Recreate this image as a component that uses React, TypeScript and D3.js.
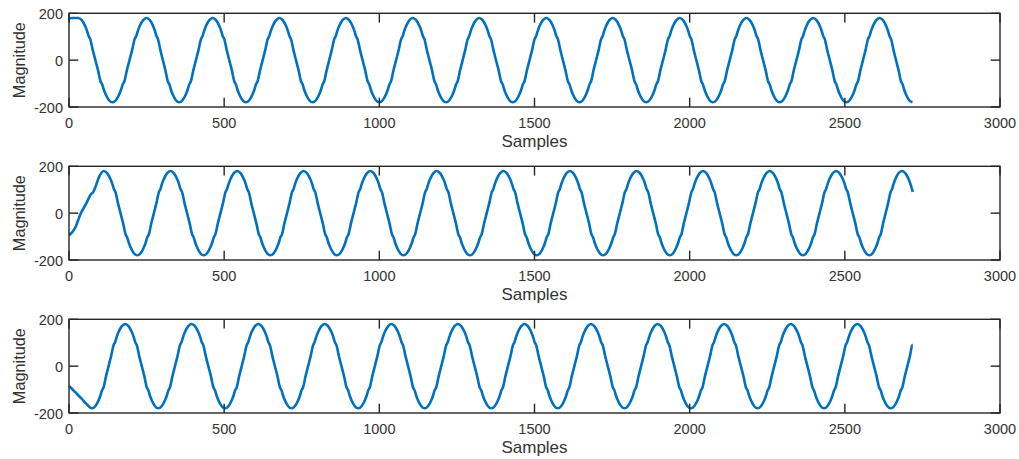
import React from "react";
import * as d3 from "d3";

const W = 1019;
const H = 459;

const xTicks = [0, 500, 1000, 1500, 2000, 2500, 3000];
const yTicks = [-200, 0, 200];
const xLabel = "Samples";
const yLabel = "Magnitude";
const amplitude = 180;

// Shape of one half-cycle: [fraction of half-cycle, fraction of amplitude]
const halfCycleShape: [number, number][] = [
  [0, 1], [0.1, 0.951], [0.2, 0.809], [0.26, 0.684], [0.3, 0.575], [0.35, 0.5],
  [0.42, 0.249], [0.5, 0], [0.58, -0.249], [0.65, -0.5], [0.7, -0.575],
  [0.74, -0.684], [0.8, -0.809], [0.9, -0.951], [1, -1],
];

// Panel 1
const aStart: [number, number][] = [[0, 179], [14, 180]];
const aPeaks = [30, 250, 463, 678, 892, 1108, 1322, 1538, 1752, 1968, 2183, 2398, 2612];
const aTroughs = [140, 355, 570, 785, 1000, 1215, 1430, 1645, 1860, 2075, 2290, 2505, 2718];
const aEnd: [number, number] = [2718, -180];

// Panel 2
const bStart: [number, number][] = [[0, -95], [19, -65], [38, -1], [57, 45], [70, 80], [78, 90], [86, 115], [97, 155]];
const bPeaks = [112, 327, 542, 756, 971, 1185, 1400, 1614, 1829, 2043, 2258, 2472, 2684];
const bTroughs = [220, 434, 649, 863, 1078, 1292, 1507, 1721, 1936, 2150, 2365, 2579, 2791];
const bEnd: [number, number] = [2719, 91];

// Panel 3
const cStart: [number, number][] = [[0, -84], [20, -111], [40, -138], [56, -161]];
const cPeaks = [181, 395, 610, 824, 1039, 1253, 1468, 1682, 1897, 2111, 2326, 2540, 2755];
const cTroughs = [74, 288, 503, 717, 932, 1146, 1361, 1575, 1790, 2004, 2219, 2433, 2648];
const cEnd: [number, number] = [2719, 90];

function buildSeries(start: [number, number][], peaks: number[], troughs: number[], end: [number, number]) {
  const ext: [number, number][] = [
    ...peaks.map((x) => [x, 1] as [number, number]),
    ...troughs.map((x) => [x, -1] as [number, number]),
  ].sort((a, b) => a[0] - b[0]);
  const pts: [number, number][] = [...start];
  for (let i = 0; i < ext.length - 1; i++) {
    const [x0, s0] = ext[i];
    const x1 = ext[i + 1][0];
    halfCycleShape.forEach(([f, v], j) => {
      if (j === halfCycleShape.length - 1) return;
      const x = x0 + f * (x1 - x0);
      if (x < end[0]) pts.push([x, s0 * v * amplitude]);
    });
  }
  pts.push(end);
  return pts;
}

const series = [
  buildSeries(aStart, aPeaks, aTroughs, aEnd),
  buildSeries(bStart, bPeaks, bTroughs, bEnd),
  buildSeries(cStart, cPeaks, cTroughs, cEnd),
];

const panelTops = [13.3, 166.3, 319.3];
const panelH = 93.7;
const left = 69;
const right = 1000;
const tickLen = 9.3;
const font = "'Liberation Sans', Arial, Helvetica, sans-serif";
const axisColor = "#262626";
const textColor = "#333333";

export default function App() {
  const x = d3.scaleLinear().domain([0, 3000]).range([left, right]);
  return (
    <svg width={W} height={H} style={{ position: "absolute", left: 0, top: 0, background: "#fff" }} fontFamily={font}>
      <rect x={0} y={0} width={W} height={H} fill="#fff" />
      {series.map((data, i) => {
        const top = panelTops[i];
        const bottom = top + panelH;
        const y = d3.scaleLinear().domain([-200, 200]).range([bottom, top]);
        const line = d3
          .line<[number, number]>()
          .x((d) => x(d[0]))
          .y((d) => y(d[1]))
          .curve(d3.curveMonotoneX);
        return (
          <g key={i}>
            <path d={line(data) || ""} fill="none" stroke="#0072BD" strokeWidth={2.6} strokeLinejoin="round" />
            <rect x={left} y={top} width={right - left} height={panelH} fill="none" stroke={axisColor} strokeWidth={1.4} />
            {xTicks.map((t) => (
              <g key={"x" + t}>
                <line x1={x(t)} x2={x(t)} y1={bottom} y2={bottom - tickLen} stroke={axisColor} strokeWidth={1.4} />
                <line x1={x(t)} x2={x(t)} y1={top} y2={top + tickLen} stroke={axisColor} strokeWidth={1.4} />
                <text x={x(t)} y={bottom + 20.5} textAnchor="middle" fontSize={14.5} fill={textColor}>
                  {t}
                </text>
              </g>
            ))}
            {yTicks.map((t) => (
              <g key={"y" + t}>
                <line x1={left} x2={left + tickLen} y1={y(t)} y2={y(t)} stroke={axisColor} strokeWidth={1.4} />
                <line x1={right} x2={right - tickLen} y1={y(t)} y2={y(t)} stroke={axisColor} strokeWidth={1.4} />
                <text x={63} y={y(t) + 5.5} textAnchor="end" fontSize={14.5} fill={textColor}>
                  {t}
                </text>
              </g>
            ))}
            <text x={(left + right) / 2} y={bottom + 39.5} textAnchor="middle" fontSize={17} fill={textColor}>
              {xLabel}
            </text>
            <text
              transform={`translate(24.5, ${(top + bottom) / 2}) rotate(-90)`}
              textAnchor="middle"
              fontSize={16.3}
              fill={textColor}
            >
              {yLabel}
            </text>
          </g>
        );
      })}
    </svg>
  );
}
